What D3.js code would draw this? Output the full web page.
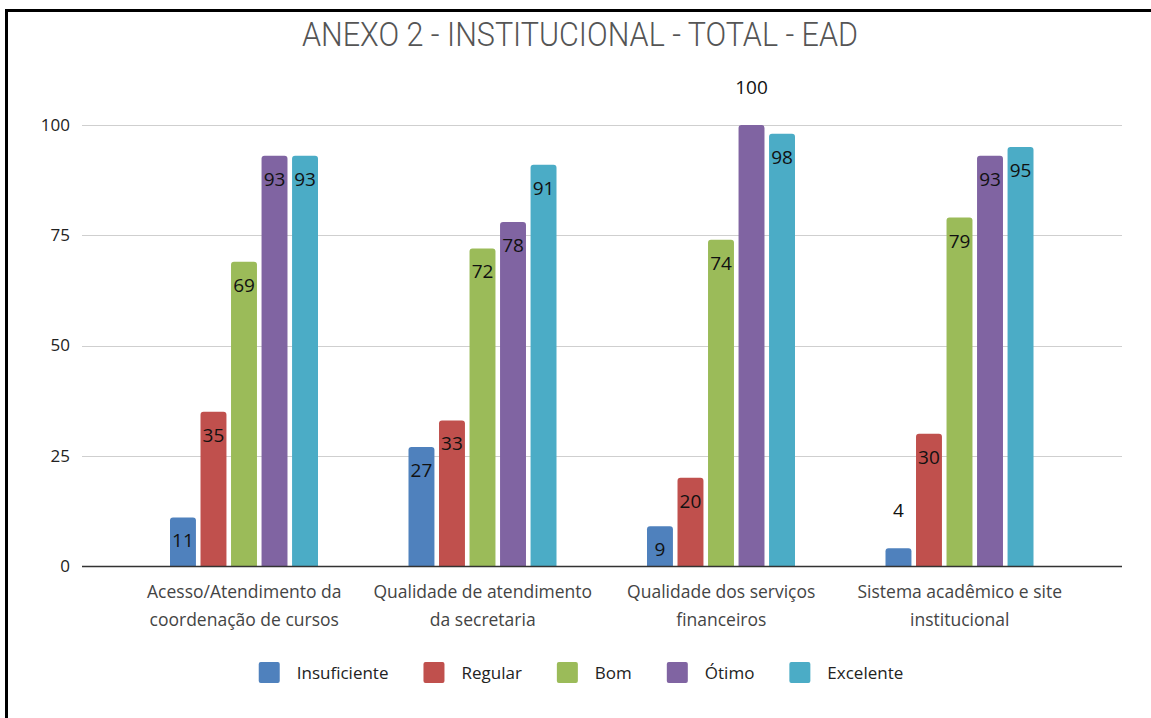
<!DOCTYPE html>
<html>
<head>
<meta charset="utf-8">
<script src="https://cdn.jsdelivr.net/npm/d3@7"></script>
<style>
  body { margin: 0; background: #fff; }
  text { font-family: "Open Sans", "Noto Sans", sans-serif; }
  .title { font-family: Roboto, sans-serif; font-weight: 300; }
</style>
</head>
<body>
<div id="root"></div>
<script>
// Chart data
const title = 'ANEXO 2 - INSTITUCIONAL - TOTAL - EAD'
const categories = [
  ['Acesso/Atendimento da', 'coordenação de cursos'],
  ['Qualidade de atendimento', 'da secretaria'],
  ['Qualidade dos serviços', 'financeiros'],
  ['Sistema acadêmico e site', 'institucional']
]
const seriesNames = ['Insuficiente', 'Regular', 'Bom', 'Ótimo', 'Excelente']
const seriesColors = ['#4f81bd', '#c0504d', '#9bbb59', '#8064a2', '#4bacc6']
const insuficiente = [11, 27, 9, 4]
const regular = [35, 33, 20, 30]
const bom = [69, 72, 74, 79]
const otimo = [93, 78, 100, 93]
const excelente = [93, 91, 98, 95]
const yTicks = [0, 25, 50, 75, 100]

const seriesValues = [insuficiente, regular, bom, otimo, excelente]

const W = 1151, H = 718
const plot = { left: 82, right: 1122, top: 125, bottom: 566 }

const svg = d3.select('#root').append('svg')
  .attr('width', W)
  .attr('height', H)

// outer frame (only left and top edges visible)
svg.append('line').attr('x1', 6.5).attr('x2', 6.5).attr('y1', 9).attr('y2', H)
  .attr('stroke', '#000').attr('stroke-width', 3)
svg.append('line').attr('x1', 5).attr('x2', W).attr('y1', 10.5).attr('y2', 10.5)
  .attr('stroke', '#000').attr('stroke-width', 3)

// title
svg.append('text')
  .attr('class', 'title')
  .attr('x', 580).attr('y', 46)
  .attr('text-anchor', 'middle')
  .attr('font-size', 34)
  .attr('fill', '#555')
  .attr('textLength', 556)
  .attr('lengthAdjust', 'spacingAndGlyphs')
  .text(title)

// scales
const y = d3.scaleLinear().domain([0, 100]).range([plot.bottom, plot.top])
const x0 = d3.scaleBand().domain(d3.range(categories.length)).range([125, 1079])
const x1 = d3.scaleBand().domain(d3.range(seriesNames.length))
  .range([45, 193]).paddingInner(0.15)

// gridlines
svg.append('g')
  .selectAll('line')
  .data(yTicks.filter(t => t > 0))
  .enter().append('line')
  .attr('x1', plot.left).attr('x2', plot.right)
  .attr('y1', d => Math.round(y(d)) + 0.5).attr('y2', d => Math.round(y(d)) + 0.5)
  .attr('stroke', '#cfcfcf')

// y axis labels
const yAxis = svg.append('g')
  .attr('transform', `translate(${plot.left},0)`)
  .call(d3.axisLeft(y).tickValues(yTicks).tickSize(0).tickPadding(12))
yAxis.select('.domain').remove()
yAxis.selectAll('text')
  .attr('font-size', 17)
  .attr('fill', '#222')
  .style('font-family', '"Open Sans", "Noto Sans", sans-serif')

// rounded-top bar path
function barPath(x, top, w, bottom) {
  const r = Math.min(3, bottom - top)
  return `M${x},${bottom}V${top + r}Q${x},${top} ${x + r},${top}H${x + w - r}Q${x + w},${top} ${x + w},${top + r}V${bottom}Z`
}

// bars
const groups = svg.append('g').selectAll('g')
  .data(categories)
  .enter().append('g')
  .attr('transform', (d, i) => `translate(${x0(i)},0)`)

groups.each(function (c, ci) {
  const g = d3.select(this)
  seriesValues.forEach((vals, si) => {
    const v = vals[ci]
    const bx = x1(si)
    const top = y(v)
    g.append('path')
      .attr('d', barPath(bx, top, x1.bandwidth(), plot.bottom))
      .attr('fill', seriesColors[si])
    const outside = v < 6 || v >= 100
    g.append('text')
      .attr('x', bx + x1.bandwidth() / 2)
      .attr('y', outside ? top - 31 : top + 30)
      .attr('text-anchor', 'middle')
      .attr('font-size', 19)
      .attr('fill', '#111')
      .text(v)
  })
  // category label
  const lbl = g.append('text')
    .attr('text-anchor', 'middle')
    .attr('font-size', 17.5)
    .attr('fill', '#444')
  c.forEach((line, li) => {
    lbl.append('tspan')
      .attr('x', x0.bandwidth() / 2)
      .attr('y', 598 + li * 28)
      .text(line)
  })
})

// baseline
svg.append('line')
  .attr('x1', plot.left).attr('x2', plot.right)
  .attr('y1', plot.bottom + 0.5).attr('y2', plot.bottom + 0.5)
  .attr('stroke', '#333').attr('stroke-width', 1.5)

// legend
const legend = svg.append('g')
let lx = 0
seriesNames.forEach((name, i) => {
  const item = legend.append('g').attr('transform', `translate(${lx},0)`)
  item.append('rect')
    .attr('x', 0).attr('y', 662).attr('width', 21).attr('height', 21)
    .attr('rx', 2)
    .attr('fill', seriesColors[i])
  const t = item.append('text')
    .attr('x', 38).attr('y', 679)
    .attr('font-size', 17)
    .attr('fill', '#222')
    .text(name)
  lx += 38 + t.node().getComputedTextLength() + 35
})
const legendWidth = lx - 35
legend.attr('transform', `translate(${581 - legendWidth / 2},0)`)
</script>
</body>
</html>
